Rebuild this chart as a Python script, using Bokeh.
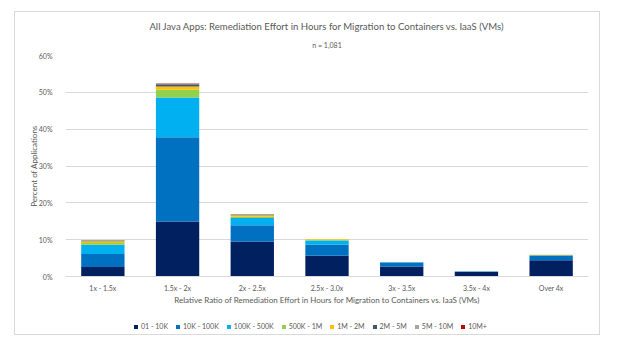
from bokeh.plotting import figure
from bokeh.layouts import column
from bokeh.models import Range1d, PrintfTickFormatter, Legend, LegendItem, Title, ColumnDataSource
from bokeh.embed import file_html
from bokeh.resources import INLINE

categories = ["1x - 1.5x", "1.5x - 2x", "2x - 2.5x", "2.5x - 3.0x", "3x - 3.5x", "3.5x - 4x", "Over 4x"]
series_names = ["01 - 10K", "10K - 100K", "100K - 500K", "500K - 1M", "1M - 2M", "2M - 5M", "5M - 10M", "10M+"]
s_01_10k = [2.6, 14.9, 9.5, 5.6, 2.7, 1.2, 4.4]
s_10k_100k = [3.5, 22.9, 4.4, 3.0, 1.1, 0.15, 1.3]
s_100k_500k = [2.5, 10.8, 2.0, 1.2, 0.1, 0.0, 0.1]
s_500k_1m = [0.5, 2.1, 0.3, 0.1, 0.0, 0.0, 0.0]
s_1m_2m = [0.5, 0.9, 0.4, 0.2, 0.0, 0.0, 0.1]
s_2m_5m = [0.2, 0.6, 0.2, 0.0, 0.0, 0.0, 0.0]
s_5m_10m = [0.1, 0.2, 0.1, 0.0, 0.0, 0.0, 0.0]
s_10m_plus = [0.0, 0.1, 0.0, 0.0, 0.0, 0.0, 0.0]
colors = ["#002060", "#0070C0", "#00B0F0", "#92D050", "#FFC000", "#44546A", "#A5A5A5", "#C00000"]

keys = ["a", "b", "c", "d", "e", "f", "g", "h"]
data = dict(cat=categories)
for k, s in zip(keys, [s_01_10k, s_10k_100k, s_100k_500k, s_500k_1m, s_1m_2m, s_2m_5m, s_5m_10m, s_10m_plus]):
    data[k] = s
source = ColumnDataSource(data)

FONT = "Lato"
GRAY = "#595959"

p = figure(x_range=categories, y_range=Range1d(0, 60), width=584, height=300,
           output_backend="svg", toolbar_location=None,
           min_border_left=50, min_border_right=11, min_border_top=43, min_border_bottom=36)
p.outline_line_color = None
p.background_fill_color = "white"
p.border_fill_color = "white"

renderers = p.vbar_stack(keys, x="cat", width=0.58, color=colors, source=source, line_color=None)

p.xgrid.grid_line_color = None
p.ygrid.grid_line_color = "#d9d9d9"
p.ygrid.grid_line_width = 1

p.yaxis.ticker = [0, 10, 20, 30, 40, 50, 60]
p.yaxis.formatter = PrintfTickFormatter(format="%d%%")
p.yaxis.axis_line_color = None
p.yaxis.major_tick_line_color = None
p.yaxis.minor_tick_line_color = None
p.yaxis.major_label_text_font = FONT
p.yaxis.major_label_text_font_size = "7px"
p.yaxis.major_label_text_color = GRAY
p.yaxis.major_label_standoff = 7
p.yaxis.axis_label = "Percent of Applications"
p.yaxis.axis_label_text_font = FONT
p.yaxis.axis_label_text_font_size = "8px"
p.yaxis.axis_label_text_font_style = "normal"
p.yaxis.axis_label_text_color = GRAY
p.yaxis.axis_label_standoff = -3

p.xaxis.axis_line_color = "#d9d9d9"
p.xaxis.major_tick_line_color = None
p.xaxis.minor_tick_line_color = None
p.xaxis.major_label_text_font = FONT
p.xaxis.major_label_text_font_size = "7px"
p.xaxis.major_label_text_color = GRAY
p.xaxis.major_label_standoff = 1
p.xaxis.axis_label = "Relative Ratio of Remediation Effort in Hours for Migration to Containers vs. IaaS (VMs)"
p.xaxis.axis_label_text_font = FONT
p.xaxis.axis_label_text_font_size = "8px"
p.xaxis.axis_label_text_font_style = "normal"
p.xaxis.axis_label_text_color = GRAY
p.xaxis.axis_label_standoff = 0

sub = Title(text="n = 1,081", align="center", text_font=FONT, text_font_size="7px",
            text_color=GRAY, text_font_style="normal", standoff=14)
main = Title(text="All Java Apps: Remediation Effort in Hours for Migration to Containers vs. IaaS (VMs)",
             align="center", text_font=FONT, text_font_size="9.6px", text_color=GRAY,
             text_font_style="normal", standoff=0)
p.add_layout(sub, "above")
p.add_layout(main, "above")

# legend strip below the chart (swatch renderers are zero-sized, so nothing is drawn but the legend)
pl = figure(width=584, height=22, output_backend="svg", toolbar_location=None,
            x_range=Range1d(0, 1), y_range=Range1d(0, 1),
            x_axis_location=None, y_axis_location=None,
            min_border_left=0, min_border_right=0, min_border_top=0, min_border_bottom=0)
pl.outline_line_color = None
pl.xgrid.visible = False
pl.ygrid.visible = False
leg_renderers = [pl.vbar(x=[0.5], top=[0], bottom=[0], width=0, color=c, line_color=None) for c in colors]
items = [LegendItem(label=n, renderers=[r]) for n, r in zip(series_names, leg_renderers)]
legend = Legend(items=items, orientation="horizontal", location=(68, 4),
                glyph_width=5, glyph_height=5, label_text_font=FONT, label_text_font_size="7px",
                label_text_color=GRAY, label_standoff=3, spacing=7, padding=0, margin=0,
                border_line_color=None, background_fill_alpha=0, label_height=8)
pl.add_layout(legend, "center")

layout = column(p, pl, spacing=0,
                styles={"margin-left": "14px", "margin-top": "11px", "border": "1px solid #d9d9d9"})

open("out.html", "w").write(file_html(layout, INLINE))
